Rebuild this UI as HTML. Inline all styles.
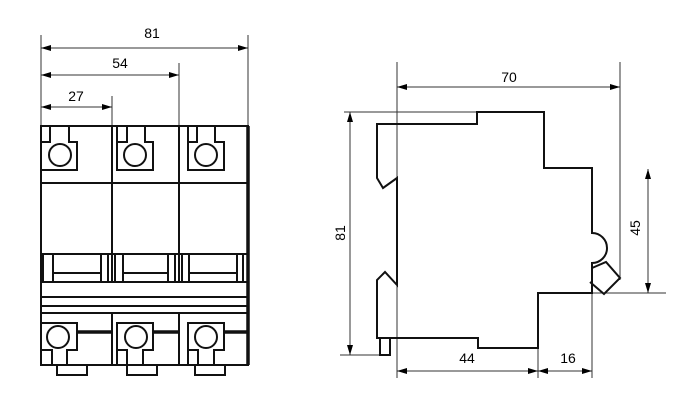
<!DOCTYPE html>
<html><head><meta charset="utf-8"><style>html,body{margin:0;padding:0;background:#fff}svg{display:block}</style></head>
<body>
<svg width="700" height="400" viewBox="0 0 700 400" xmlns="http://www.w3.org/2000/svg">
<defs>
<marker id="a" viewBox="0 0 10 6" refX="10" refY="3" markerWidth="10" markerHeight="6" orient="auto-start-reverse" markerUnits="userSpaceOnUse"><path d="M0,0 L10,3 L0,6z" fill="#000"/></marker>
</defs>
<g font-family="Liberation Sans, sans-serif" font-size="14" fill="#000" text-anchor="middle">
<text x="152" y="38">81</text>
<text x="120" y="68">54</text>
<text x="76" y="101">27</text>
<text x="509" y="82">70</text>
<text x="467" y="363">44</text>
<text x="568" y="363">16</text>
<text transform="translate(345,233) rotate(-90)">81</text>
<text transform="translate(640,228) rotate(-90)">45</text>
</g>
<g stroke="#333" stroke-width="1" fill="none">
<!-- front dims -->
<line x1="41" y1="35" x2="41" y2="126"/><line x1="248" y1="35" x2="248" y2="126"/>
<line x1="179" y1="63" x2="179" y2="126"/><line x1="112" y1="96" x2="112" y2="126"/>
<line x1="41" y1="48" x2="248" y2="48" marker-start="url(#a)" marker-end="url(#a)"/>
<line x1="41" y1="75" x2="179" y2="75" marker-start="url(#a)" marker-end="url(#a)"/>
<line x1="41" y1="107" x2="112" y2="107" marker-start="url(#a)" marker-end="url(#a)"/>
<!-- side dims -->
<line x1="397" y1="62" x2="397" y2="378"/><line x1="620" y1="62" x2="620" y2="280"/>
<line x1="397" y1="87" x2="620" y2="87" marker-start="url(#a)" marker-end="url(#a)"/>
<line x1="344" y1="112" x2="477" y2="112"/><line x1="340" y1="355" x2="380" y2="355"/>
<line x1="350" y1="112" x2="350" y2="355" marker-start="url(#a)" marker-end="url(#a)"/>
<line x1="592" y1="293" x2="666" y2="293"/>
<line x1="648" y1="169" x2="648" y2="293" marker-start="url(#a)" marker-end="url(#a)"/>
<line x1="538" y1="293" x2="538" y2="378"/><line x1="592" y1="293" x2="592" y2="378"/>
<line x1="397" y1="371" x2="538" y2="371" marker-start="url(#a)" marker-end="url(#a)"/>
<line x1="538" y1="371" x2="592" y2="371" marker-start="url(#a)" marker-end="url(#a)"/>
</g>
<g stroke="#111" stroke-width="2" fill="none">
<!-- side outline -->
<path d="M377,124 H477 V112 H544 V168 H592 V233 A15,15 0 0 1 592,263 L592,293 H538 V348 H478 V338 H377 V280 L385,272 L397,285 V178 L383,188 L377,178 Z"/>
<path d="M592,268 L606,262 L620,278 L604,294 L590,282"/>
<rect x="380" y="338" width="10" height="17"/>
<!-- front outline -->
<rect x="41" y="126" width="207" height="239"/>
<line x1="248" y1="126" x2="248" y2="365" stroke-width="3.5"/>
<line x1="112" y1="126" x2="112" y2="282"/><line x1="179" y1="126" x2="179" y2="282"/>
<line x1="112" y1="313" x2="112" y2="365"/><line x1="179" y1="313" x2="179" y2="365"/>
<line x1="41" y1="183" x2="248" y2="183"/>
<line x1="41" y1="254" x2="248" y2="254"/>
<line x1="41" y1="282" x2="248" y2="282"/>
<line x1="41" y1="297" x2="248" y2="297"/>
<line x1="41" y1="306" x2="248" y2="306"/>
<line x1="41" y1="313" x2="248" y2="313"/>
<!-- top terminals -->
<path d="M41,142 H50 V127 M69,127 V142 H77 V170 H41"/>
<path d="M117,127 V170 H153 V142 H145 V127 M127,127 V142 H117"/>
<path d="M188,127 V170 H224 V142 H215 V127 M197,127 V142 H188"/>
<circle cx="60" cy="155" r="11"/><circle cx="135" cy="155" r="11"/><circle cx="206" cy="155" r="11"/>
<!-- bottom terminals -->
<path d="M42,323 H77 V350 H67 V365 M52,365 V350 H42"/>
<path d="M117,365 V323 H153 V350 H143 V365 M127,365 V350 H117"/>
<path d="M188,365 V323 H224 V350 H214 V365 M198,365 V350 H188"/>
<circle cx="58" cy="337" r="11"/><circle cx="136" cy="337" r="11"/><circle cx="206" cy="337" r="11"/>
<rect x="57" y="365" width="30" height="10"/><rect x="127" y="365" width="30" height="10"/><rect x="195" y="365" width="30" height="10"/>
<!-- toggles -->
<path d="M43,254 V282 M53,254 V282 M101,254 V282 M108,254 V282 M53,273 H101"/>
<path d="M115,254 V282 M123,254 V282 M168,254 V282 M175,254 V282 M123,273 H168"/>
<path d="M182,254 V282 M189,254 V282 M237,254 V282 M243,254 V282 M189,273 H237"/>
</g>
<g stroke="#111" stroke-width="3.5">
<line x1="78" y1="332" x2="112" y2="332"/><line x1="153" y1="332" x2="179" y2="332"/><line x1="224" y1="332" x2="247" y2="332"/>
</g>
</svg>
</body></html>
